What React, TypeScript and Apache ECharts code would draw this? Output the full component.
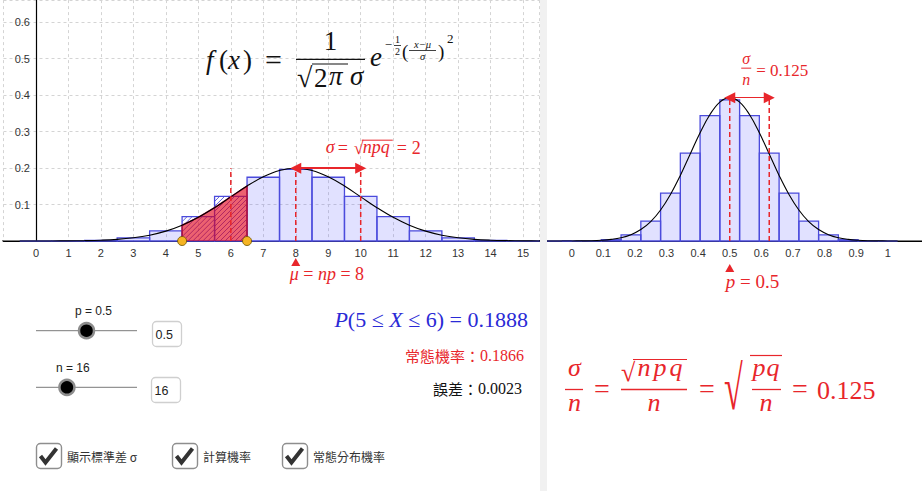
import React, { useEffect, useRef } from 'react';
import * as echarts from 'echarts';

// ---------------- data ----------------
const n = 16;
const p = 0.5;
const mu = 8; // np
const sigma = 2; // sqrt(npq)
const sigmaOverN = 0.125;
const rangeLo = 5;
const rangeHi = 6;
const ks = [0, 1, 2, 3, 4, 5, 6, 7, 8, 9, 10, 11, 12, 13, 14, 15, 16];
const binomProb = [0.0, 0.0002, 0.0018, 0.0085, 0.0278, 0.0667, 0.1222, 0.1746, 0.1964, 0.1746, 0.1222, 0.0667, 0.0278, 0.0085, 0.0018, 0.0002, 0.0];
const curveX = [-2, -1.5, -1, -0.5, 0, 0.5, 1, 1.5, 2, 2.5, 3, 3.5, 4, 4.5, 5, 5.5, 6, 6.5, 7, 7.5, 8, 8.5, 9, 9.5, 10, 10.5, 11, 11.5, 12, 12.5, 13, 13.5, 14, 14.5, 15, 15.5, 16, 16.5, 17, 17.5, 18];
const curveY = [0.0, 0.0, 0.0, 0.0, 0.0001, 0.0002, 0.0004, 0.001, 0.0022, 0.0045, 0.0088, 0.0159, 0.027, 0.0432, 0.0648, 0.0913, 0.121, 0.1506, 0.176, 0.1934, 0.1995, 0.1934, 0.176, 0.1506, 0.121, 0.0913, 0.0648, 0.0432, 0.027, 0.0159, 0.0088, 0.0045, 0.0022, 0.001, 0.0004, 0.0002, 0.0001, 0.0, 0.0, 0.0, 0.0];
const probText = '0.1888';
const normalText = '0.1866';
const errorText = '0.0023';
const checkLabels = ['顯示標準差 σ', '計算機率', '常態分布機率'];

// ---------------- styles ----------------
const SERIF = "'Liberation Serif', 'Times New Roman', serif";
const SANS = "'Liberation Sans', Arial, sans-serif";
const CJK = "'Noto Sans CJK TC', 'Noto Sans CJK SC', sans-serif";
const RED = '#e8262b';
const BLUE_TXT = '#2a2ad6';
const LAV = 'rgba(90,90,255,0.18)';
const BAR_EDGE = '#4b4bdc';
const HATCH = '#3a3ad0';
const INK = '#111';

// left view geometry (px)
const LEFT_GRID_X = 3.5;
const LEFT_GRID_W = 535.8;
const LEFT_XMIN = -1;
const LEFT_XMAX = 15.5;

type TOpt = { italic?: boolean; color?: string; align?: string; family?: string; v?: string; scaleX?: number; scaleY?: number; rich?: any };
function tx(text: string, x: number, y: number, size: number, o: TOpt = {}) {
  const style: any = {
    text,
    fill: o.color ?? INK,
    fontSize: size,
    fontFamily: o.family ?? SERIF,
    fontStyle: o.italic ? 'italic' : 'normal',
    align: o.align ?? 'left',
    verticalAlign: o.v ?? 'middle',
    textAlign: o.align ?? 'left',
    textVerticalAlign: o.v ?? 'middle',
  };
  if (o.rich) style.rich = o.rich;
  return { type: 'text', x, y, z: 50, silent: true, scaleX: o.scaleX ?? 1, scaleY: o.scaleY ?? 1, style };
}
function ln(x1: number, y1: number, x2: number, y2: number, color: string, w = 1) {
  return { type: 'line', z: 50, silent: true, shape: { x1, y1, x2, y2 }, style: { stroke: color, lineWidth: w } };
}
function richStyle(color: string, size: number, cjk = false) {
  return {
    i: { fontFamily: SERIF, fontSize: size, fontStyle: 'italic', fill: color, color },
    r: { fontFamily: SERIF, fontSize: size, fill: color, color },
    c: { fontFamily: CJK, fontSize: cjk ? 15 : size, fill: color, color },
    n: { fontFamily: SERIF, fontSize: 16, fill: color, color },
  };
}

const peak = Math.max(...curveY);

function barRenderer(half: number) {
  return (params: any, api: any) => {
    const k = api.value(0);
    const h = api.value(1);
    const hl = api.value(2);
    const a = api.coord([k - half, h]);
    const b = api.coord([k + half, 0]);
    const x = a[0], y = a[1], w = b[0] - a[0], hh = b[1] - a[1];
    const children: any[] = [
      { type: 'rect', shape: { x, y, width: w, height: hh }, style: { fill: hl ? 'rgba(255,255,255,0)' : LAV, stroke: 'none' } },
    ];
    if (hl) {
      const s = 5;
      for (let c = x + y + s; c < x + w + y + hh; c += s) {
        const xa = Math.max(x, c - (y + hh));
        const xb = Math.min(x + w, c - y);
        if (xb > xa) children.push({ type: 'line', shape: { x1: xa, y1: c - xa, x2: xb, y2: c - xb }, style: { stroke: HATCH, lineWidth: 0.8 } });
      }
    }
    children.push({ type: 'rect', shape: { x, y, width: w, height: hh }, style: { fill: 'none', stroke: BAR_EDGE, lineWidth: 1.3 } });
    return { type: 'group', children };
  };
}

function dashed(xIdx: number, x: number, top: number, extra: any = {}) {
  return {
    type: 'line', xAxisIndex: xIdx, yAxisIndex: xIdx, z: 5, symbol: 'none', silent: true,
    data: [[x, 0], [x, top]],
    lineStyle: { color: RED, width: 1.5, type: [5, 3] },
    ...extra,
  };
}

function buildOption() {
  const leftLabel = (v: number) => (v >= 0 && Math.abs(v - Math.round(v)) < 1e-9 ? String(Math.round(v)) : '');
  const rightLabel = (v: number) => {
    if (v < -1e-9 || v > 1 + 1e-9) return '';
    if (Math.abs(v) < 1e-9) return '0';
    if (Math.abs(v - 1) < 1e-9) return '1';
    return v.toFixed(1);
  };
  const yLabel = (v: number) => (v > 1e-9 && Math.abs(v * 10 - Math.round(v * 10)) < 1e-6 ? v.toFixed(1) : '');
  const areaData: number[][] = [[rangeLo - 0.5, 0]];
  curveX.forEach((x, i) => {
    if (x >= rangeLo - 0.5 && x <= rangeHi + 0.5) areaData.push([x, curveY[i]]);
  });
  areaData.push([rangeHi + 0.5, 0]);
  const lbl = { color: '#333', fontSize: 11, fontFamily: SANS, margin: 6 };
  // shift the y axis onto x = 0
  const yAxisOffset = -((0 - LEFT_XMIN) / (LEFT_XMAX - LEFT_XMIN)) * LEFT_GRID_W;
  return {
    animation: false,
    backgroundColor: '#fff',
    grid: [
      { left: LEFT_GRID_X, top: 0.1, width: LEFT_GRID_W, height: 240.9, outerBoundsMode: 'none', containLabel: false },
      { left: 540.1, top: 0, width: 382.4, height: 241, outerBoundsMode: 'none', containLabel: false },
    ],
    xAxis: [
      {
        type: 'value', gridIndex: 0, min: LEFT_XMIN, max: LEFT_XMAX, interval: 1,
        axisLine: { show: true, onZero: false, lineStyle: { color: '#000', width: 1.2 } },
        axisTick: { show: false },
        axisLabel: { ...lbl, formatter: leftLabel },
        splitLine: { show: true, lineStyle: { color: '#d4d4d4', width: 1, type: [3, 3] } },
      },
      {
        type: 'value', gridIndex: 1, min: -0.1, max: 1.11, interval: 0.1,
        axisLine: { show: true, onZero: false, lineStyle: { color: '#000', width: 1.2 } },
        axisTick: { show: false },
        axisLabel: { ...lbl, formatter: rightLabel },
        splitLine: { show: false },
      },
    ],
    yAxis: [
      {
        type: 'value', gridIndex: 0, min: 0, max: 0.66, interval: 0.1, offset: yAxisOffset,
        axisLine: { show: true, onZero: false, lineStyle: { color: '#000', width: 1.2 } },
        axisTick: { show: false },
        axisLabel: { ...lbl, formatter: yLabel },
        splitLine: { show: true, lineStyle: { color: '#d4d4d4', width: 1, type: [3, 3] } },
      },
      { type: 'value', gridIndex: 1, min: 0, max: 5.367, show: false },
    ],
    series: [
      {
        type: 'custom', xAxisIndex: 0, yAxisIndex: 0, z: 2, silent: true,
        data: ks.map((k, i) => [k, binomProb[i], k >= rangeLo && k <= rangeHi ? 1 : 0]),
        encode: { x: 0, y: 1 },
        renderItem: barRenderer(0.5),
      },
      {
        type: 'custom', xAxisIndex: 1, yAxisIndex: 1, z: 2, silent: true,
        data: ks.map((k, i) => [k / n, binomProb[i] * n, 0]),
        encode: { x: 0, y: 1 },
        renderItem: barRenderer(0.5 / n),
      },
      {
        type: 'line', xAxisIndex: 0, yAxisIndex: 0, z: 3, symbol: 'none', smooth: false, silent: true,
        data: areaData,
        lineStyle: { color: '#b5123a', width: 1.5 },
        areaStyle: { color: '#e10019', opacity: 0.62 },
      },
      {
        type: 'line', xAxisIndex: 0, yAxisIndex: 0, z: 4, symbol: 'none', smooth: 0.4, silent: true,
        data: curveX.map((x, i) => [x, curveY[i]]),
        lineStyle: { color: '#000', width: 1.1 },
      },
      {
        type: 'line', xAxisIndex: 1, yAxisIndex: 1, z: 4, symbol: 'none', smooth: 0.4, silent: true,
        data: curveX.map((x, i) => [x / n, curveY[i] * n]),
        lineStyle: { color: '#000', width: 1.1 },
      },
      dashed(0, mu - sigma, peak),
      dashed(0, mu + sigma, peak),
      dashed(0, mu, peak, {
        markLine: {
          silent: true, symbol: ['triangle', 'triangle'], symbolSize: [11, 11],
          label: { show: false },
          lineStyle: { color: RED, width: 2, type: 'solid' },
          data: [[{ coord: [mu, peak] }, { coord: [mu + sigma, peak] }]],
        },
      }),
      dashed(1, p + sigmaOverN, peak * n),
      dashed(1, p, peak * n, {
        markLine: {
          silent: true, symbol: ['triangle', 'triangle'], symbolSize: [11, 11],
          label: { show: false },
          lineStyle: { color: RED, width: 1, type: 'solid' },
          data: [[{ coord: [p, peak * n] }, { coord: [p + sigmaOverN, peak * n] }]],
        },
      }),
      {
        type: 'scatter', xAxisIndex: 0, yAxisIndex: 0, z: 6, clip: false, silent: true,
        symbol: 'circle', symbolSize: 9,
        itemStyle: { color: '#f5b423', borderColor: '#6b5200', borderWidth: 0.8, opacity: 1 },
        data: [[rangeLo - 0.5, 0], [rangeHi + 0.5, 0]],
      },
      {
        type: 'scatter', xAxisIndex: 0, yAxisIndex: 0, z: 6, clip: false, silent: true,
        symbol: 'triangle', symbolSize: [9, 8], symbolOffset: [0, 21],
        itemStyle: { color: RED, opacity: 1 },
        data: [[mu, 0]],
      },
      {
        type: 'scatter', xAxisIndex: 1, yAxisIndex: 1, z: 6, clip: false, silent: true,
        symbol: 'triangle', symbolSize: [9, 8], symbolOffset: [0, 27],
        itemStyle: { color: RED, opacity: 1 },
        data: [[p, 0]],
      },
    ],
  };
}

function buildGraphics(chart: any) {
  const g: any[] = [];
  // divider between the two views
  g.push({ type: 'rect', z: 60, silent: true, shape: { x: 540, y: 0, width: 7, height: 491 }, style: { fill: '#f1f1f1' } });
  g.push(ln(540.5, 0, 540.5, 491, '#d2d2d2', 1));
  g.push(ln(546.5, 0, 546.5, 491, '#e2e2e2', 1));

  // main formula f(x)
  g.push(tx('f', 206, 60, 27, { italic: true }));
  g.push(tx('(', 219, 60, 27));
  g.push(tx('x', 228, 60, 27, { italic: true }));
  g.push(tx(')', 243, 60, 27));
  g.push(tx('=', 273.5, 59, 30, { align: 'center' }));
  g.push(tx('1', 330.5, 41, 27, { align: 'center' }));
  g.push(ln(296, 59.3, 365, 59.3, INK, 1.3));
  g.push(tx('√', 297, 77, 28));
  g.push(ln(312, 64, 348, 64, INK, 1.2));
  g.push(tx('2', 314, 78, 27));
  g.push(tx('π', 329, 76, 27, { italic: true }));
  g.push(tx('σ', 350, 76, 27, { italic: true }));
  g.push(tx('e', 370, 57, 27, { italic: true }));
  g.push(tx('−', 388.5, 44, 13, { align: 'center' }));
  g.push(tx('1', 397.5, 39.5, 10, { align: 'center' }));
  g.push(ln(394, 45.5, 401, 45.5, INK, 0.8));
  g.push(tx('2', 397.5, 51.5, 10, { align: 'center' }));
  g.push(tx('(', 402, 51, 19));
  g.push(tx('x−μ', 422.5, 44.5, 10.5, { align: 'center', italic: true }));
  g.push(ln(409, 50.5, 436, 50.5, INK, 0.8));
  g.push(tx('σ', 422.5, 56.5, 10.5, { align: 'center', italic: true }));
  g.push(tx(')', 438, 51, 19));
  g.push(tx('2', 447, 38.5, 13));

  // labels anchored to the left view
  const [muPx, peakPy] = chart.convertToPixel({ gridIndex: 0 }, [mu, peak]);
  const axisPy = chart.convertToPixel({ gridIndex: 0 }, [0, 0])[1];
  const L = muPx + 30;
  const ly = peakPy - 20;
  g.push(tx('σ', L, ly - 1, 18, { italic: true, color: RED }));
  g.push(tx('=', L + 12, ly, 18, { color: RED }));
  g.push(tx('√', L + 28, ly, 18, { color: RED }));
  g.push(ln(L + 36, ly - 8, L + 67, ly - 8, RED, 1));
  g.push(tx('npq', L + 37, ly - 1, 18, { italic: true, color: RED }));
  g.push(tx('=', L + 71, ly, 18, { color: RED }));
  g.push(tx('2', L + 86, ly, 18, { color: RED }));
  g.push(tx('{i|μ}{r| = }{i|np}{r| = 8}', muPx - 6, axisPy + 33, 18, { color: RED, rich: richStyle(RED, 18) }));

  // labels anchored to the right view
  const [pPx, peakRPy] = chart.convertToPixel({ gridIndex: 1 }, [p, peak * n]);
  const endPx = chart.convertToPixel({ gridIndex: 1 }, [p + sigmaOverN, peak * n])[0];
  const axisRPy = chart.convertToPixel({ gridIndex: 1 }, [0, 0])[1];
  const sx = endPx - 23;
  g.push(tx('σ', sx, peakRPy - 39, 16, { italic: true, color: RED, align: 'center' }));
  g.push(ln(sx - 5, peakRPy - 29.5, sx + 5, peakRPy - 29.5, RED, 1));
  g.push(tx('n', sx, peakRPy - 18, 16, { italic: true, color: RED, align: 'center' }));
  g.push(tx('= 0.125', sx + 10, peakRPy - 27, 17, { color: RED }));
  g.push(tx('{i|p}{r| = 0.5}', pPx - 4, axisRPy + 40, 19, { color: RED, rich: richStyle(RED, 19) }));

  // probability texts
  g.push(tx('{i|P}{r|(5 ≤ }{i|X}{r| ≤ 6) = ' + probText + '}', 528, 319, 22, { align: 'right', color: BLUE_TXT, rich: richStyle(BLUE_TXT, 22) }));
  g.push(tx('{c|常態機率：}{n|' + normalText + '}', 524, 355, 15, { align: 'right', color: RED, rich: richStyle(RED, 15, true) }));
  g.push(tx('{c|誤差：}{n|' + errorText + '}', 522, 388, 15, { align: 'right', color: INK, rich: richStyle(INK, 15, true) }));

  // bottom-right formula
  g.push(tx('σ', 574.5, 367, 26, { italic: true, color: RED, align: 'center' }));
  g.push(ln(565, 389.5, 583, 389.5, RED, 1.3));
  g.push(tx('n', 574.5, 402, 26, { italic: true, color: RED, align: 'center' }));
  g.push(tx('=', 602, 388, 28, { color: RED, align: 'center' }));
  g.push(tx('√', 621, 372, 26, { color: RED }));
  g.push(ln(633, 359.5, 687, 359.5, RED, 1.2));
  g.push(tx('n', 644, 367, 26, { italic: true, color: RED, align: 'center' }));
  g.push(tx('p', 660, 367, 26, { italic: true, color: RED, align: 'center' }));
  g.push(tx('q', 676, 367, 26, { italic: true, color: RED, align: 'center' }));
  g.push(ln(621, 389.5, 687, 389.5, RED, 1.3));
  g.push(tx('n', 654, 402, 26, { italic: true, color: RED, align: 'center' }));
  g.push(tx('=', 707, 388, 28, { color: RED, align: 'center' }));
  g.push(tx('√', 724, 388, 62, { color: RED, scaleX: 0.55 }));
  g.push(ln(750, 355.5, 782, 355.5, RED, 1.2));
  g.push(tx('p', 759, 367, 26, { italic: true, color: RED, align: 'center' }));
  g.push(tx('q', 773, 367, 26, { italic: true, color: RED, align: 'center' }));
  g.push(ln(752, 389.5, 781, 389.5, RED, 1.3));
  g.push(tx('n', 766, 402, 26, { italic: true, color: RED, align: 'center' }));
  g.push(tx('=', 800, 388, 28, { color: RED, align: 'center' }));
  g.push(tx('0.125', 817, 390, 26, { color: RED }));

  // sliders
  const sliders = [
    { label: 'p = 0.5', value: p, min: 0, max: 1, y: 330.7, labelX: 75, labelY: 311, box: '0.5', boxX: 152.5, boxY: 321.5 },
    { label: 'n = 16', value: n, min: 1, max: 50, y: 387.3, labelX: 56, labelY: 368, box: '16', boxX: 151.5, boxY: 377.5 },
  ];
  sliders.forEach((s) => {
    const x0 = 36, x1 = 137;
    const kx = x0 + ((s.value - s.min) / (s.max - s.min)) * (x1 - x0);
    g.push(ln(x0, s.y, x1, s.y, '#7a7a7a', 1));
    g.push({ type: 'circle', z: 50, silent: true, shape: { cx: kx, cy: s.y, r: 7.5 }, style: { fill: '#000', stroke: '#8d8d8d', lineWidth: 2.5 } });
    g.push(tx(s.label, s.labelX, s.labelY, 12, { family: SANS, color: '#222' }));
    g.push({ type: 'rect', z: 50, silent: true, shape: { x: s.boxX, y: s.boxY, width: 29, height: 25, r: 4 }, style: { fill: '#fff', stroke: '#cfcfcf', lineWidth: 1.3 } });
    g.push(tx(s.box, s.boxX + 3, s.boxY + 13, 12.5, { family: SANS, color: '#222' }));
  });

  // checkboxes
  const boxXs = [36, 172, 282];
  checkLabels.forEach((label, i) => {
    const bx = boxXs[i];
    const by = 443;
    g.push({ type: 'rect', z: 50, silent: true, shape: { x: bx + 0.5, y: by + 0.5, width: 25, height: 25, r: 4 }, style: { fill: '#fff', stroke: '#8e8e8e', lineWidth: 1.4 } });
    g.push({
      type: 'polyline', z: 51, silent: true,
      shape: { points: [[bx + 4.5, by + 13], [bx + 9.5, by + 19.5], [bx + 20.5, by + 5.5]] },
      style: { stroke: '#333', lineWidth: 4, fill: 'none', lineJoin: 'miter', lineCap: 'butt' },
    });
    g.push(tx(label, bx + 31, by + 13, 12, { family: CJK, color: '#333' }));
  });
  return g;
}

export default function App() {
  const ref = useRef<HTMLDivElement>(null);
  useEffect(() => {
    const chart = echarts.init(ref.current as HTMLDivElement, null, { renderer: 'svg' });
    chart.setOption(buildOption() as any);
    chart.setOption({ graphic: buildGraphics(chart) } as any);
    return () => chart.dispose();
  }, []);
  return <div ref={ref} style={{ position: 'absolute', left: 0, top: 0, width: 922, height: 491, background: '#fff' }} />;
}
